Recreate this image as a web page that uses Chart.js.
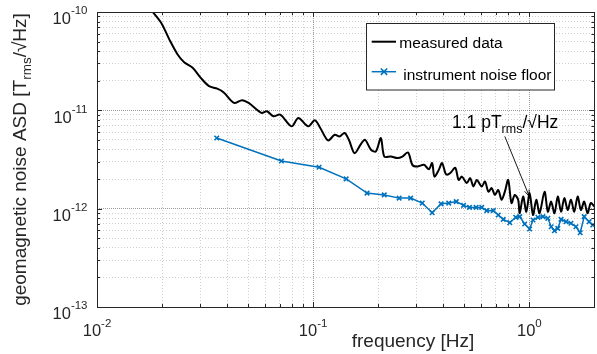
<!DOCTYPE html>
<html>
<head>
<meta charset="utf-8">
<script src="https://cdn.jsdelivr.net/npm/chart.js@4.4.1/dist/chart.umd.min.js"></script>
<style>
  body { margin: 0; overflow: hidden; background: #fff; }
  canvas { display: block; }
</style>
</head>
<body>
<canvas id="asdChart" width="600" height="354"></canvas>
<script>
// measured geomagnetic noise (black trace)
const measuredFreq = [0.0176, 0.0198, 0.0216, 0.0236, 0.0253, 0.0277, 0.0302, 0.033, 0.036, 0.0387,
  0.043, 0.0469, 0.0503, 0.0576, 0.0611, 0.0655, 0.0704, 0.0795, 0.0854, 0.0949,
  0.1018, 0.1077, 0.1172, 0.1258, 0.1326, 0.1398, 0.1463, 0.1554, 0.1666, 0.1738,
  0.1851, 0.1952, 0.2057, 0.2133, 0.2287, 0.2454, 0.2587, 0.2748, 0.2876, 0.3032,
  0.3254, 0.3431, 0.3552, 0.3639, 0.3812, 0.3948, 0.4088, 0.4162, 0.431, 0.4543,
  0.4709, 0.4876, 0.514, 0.5322, 0.5517, 0.5714, 0.6024, 0.6237, 0.6466, 0.6694,
  0.6931, 0.7185, 0.7441, 0.7705, 0.7986, 0.8268, 0.8563, 0.8876, 0.9027, 0.9357,
  0.9687, 1.003, 1.040, 1.077, 1.115, 1.176, 1.218, 1.262, 1.307, 1.354,
  1.402, 1.452, 1.505, 1.558, 1.614, 1.673, 1.732, 1.794, 1.859, 1.925, 2.0];
const measuredAsd = [1.08e-10, 7.79e-11, 5.27e-11, 3.70e-11, 3.09e-11, 2.71e-11, 2.14e-11, 1.76e-11, 1.66e-11, 1.51e-11,
  1.19e-11, 1.27e-11, 1.19e-11, 9.41e-12, 9.77e-12, 8.69e-12, 9.04e-12, 6.87e-12, 8.36e-12, 6.87e-12,
  7.91e-12, 6.66e-12, 4.94e-12, 5.65e-12, 5.43e-12, 5.88e-12, 5.02e-12, 3.67e-12, 4.57e-12, 5.02e-12,
  3.97e-12, 3.82e-12, 5.23e-12, 3.39e-12, 3.39e-12, 3.27e-12, 3.39e-12, 3.73e-12, 2.79e-12, 2.68e-12,
  2.79e-12, 2.52e-12, 2.91e-12, 2.12e-12, 2.48e-12, 2.91e-12, 2.30e-12, 2.21e-12, 2.30e-12, 2.60e-12,
  1.96e-12, 2.12e-12, 1.82e-12, 2.04e-12, 1.68e-12, 1.96e-12, 1.68e-12, 1.89e-12, 1.49e-12, 1.62e-12,
  1.38e-12, 1.55e-12, 1.23e-12, 1.49e-12, 1.96e-12, 1.14e-12, 1.38e-12, 1.23e-12, 8.98e-13, 1.33e-12,
  9.32e-13, 1.44e-12, 8.62e-13, 1.23e-12, 8.98e-13, 1.49e-12, 9.32e-13, 1.18e-12, 8.98e-13, 1.33e-12,
  9.32e-13, 1.28e-12, 9.70e-13, 1.23e-12, 9.32e-13, 1.33e-12, 9.70e-13, 1.18e-12, 8.98e-13, 1.14e-12, 1.05e-12];

// instrument noise floor (blue trace with x markers)
const noiseFreq = [0.0358, 0.0713, 0.1065, 0.1421, 0.1775, 0.2133, 0.2498, 0.2825, 0.3196, 0.3552,
  0.3906, 0.4238, 0.4592, 0.4964, 0.5289, 0.5672, 0.6024, 0.6351, 0.6815, 0.7185,
  0.7575, 0.8121, 0.8654, 0.9027, 0.9515, 1.003, 1.040, 1.096, 1.156, 1.218,
  1.262, 1.307, 1.354, 1.402, 1.478, 1.558, 1.643, 1.719, 1.794, 1.891, 1.966];
const noiseAsd = [5.23e-12, 3.05e-12, 2.64e-12, 2.01e-12, 1.44e-12, 1.38e-12, 1.28e-12, 1.28e-12, 1.14e-12, 9.10e-13,
  1.12e-12, 1.14e-12, 1.18e-12, 1.08e-12, 1.03e-12, 1.03e-12, 1.03e-12, 9.54e-13, 9.54e-13, 8.62e-13,
  7.79e-13, 7.20e-13, 8.17e-13, 8.29e-13, 6.98e-13, 6.21e-13, 7.67e-13, 8.17e-13, 8.29e-13, 7.98e-13,
  6.55e-13, 5.97e-13, 6.31e-13, 7.79e-13, 7.37e-13, 7.10e-13, 6.55e-13, 5.69e-13, 8.29e-13, 7.37e-13, 6.82e-13];

const seriesLabels = ['measured data', 'instrument noise floor'];

// axis decades (labels are 10^exp) and the minor steps inside each decade
const xTickExps = [-2, -1, 0];
const yTickExps = [-13, -12, -11, -10];
const minorSteps = [2, 3, 4, 5, 6, 7, 8, 9];

// annotation "1.1 pT_rms/sqrt(Hz)": text anchor, arrow tail and arrow tip (data coords)
const noteText = [0.4387, 6.61e-12];
const noteTail = [0.770, 5.43e-12];
const noteTip = [1.0, 1.33e-12];

const FONT = '"Liberation Sans", Arial, Helvetica, sans-serif';
const AXIS_COLOR = '#262626';
const BLUE = '#0072BD';

function decadeTicks(exps, min, max) {
    const out = [];
    exps.forEach(e => {
        const base = Math.pow(10, e);
        out.push({ value: base, major: true });
        minorSteps.forEach(m => {
            const v = m * base;
            if (v >= min * 0.999 && v <= max * 1.001) out.push({ value: v, major: false });
        });
    });
    return out.filter(t => t.value >= min * 0.999 && t.value <= max * 1.001);
}

// draw text made of pieces with own size and baseline shift (for sub/superscripts)
function drawRich(ctx, parts, x, y, align) {
    let total = 0;
    parts.forEach(p => { ctx.font = p.size + 'px ' + FONT; p.w = ctx.measureText(p.text).width; total += p.w; });
    let cx = align === 'right' ? x - total : align === 'center' ? x - total / 2 : x;
    ctx.textAlign = 'left';
    ctx.textBaseline = 'alphabetic';
    parts.forEach(p => {
        ctx.font = p.size + 'px ' + FONT;
        ctx.fillText(p.text, cx, y + (p.dy || 0));
        cx += p.w;
    });
}

function powParts(exp, baseSize, supSize, supDy) {
    return [{ text: '10', size: baseSize }, { text: String(exp), size: supSize, dy: supDy }];
}

const matlabAxes = {
    id: 'matlabAxes',
    afterDatasetsDraw(chart) {
        const { ctx, chartArea: a, scales: { x, y } } = chart;
        ctx.save();
        ctx.fillStyle = '#000';
        ctx.strokeStyle = AXIS_COLOR;
        ctx.lineWidth = 1;

        // inward tick marks on all four sides
        ctx.beginPath();
        x.ticks.forEach(t => {
            const px = Math.round(x.getPixelForValue(t.value)) + 0.5;
            const len = t.major ? 5 : 3;
            ctx.moveTo(px, a.bottom); ctx.lineTo(px, a.bottom - len);
            ctx.moveTo(px, a.top); ctx.lineTo(px, a.top + len);
        });
        y.ticks.forEach(t => {
            const py = Math.round(y.getPixelForValue(t.value)) + 0.5;
            const len = t.major ? 5 : 3;
            ctx.moveTo(a.left, py); ctx.lineTo(a.left + len, py);
            ctx.moveTo(a.right, py); ctx.lineTo(a.right - len, py);
        });
        ctx.stroke();

        // axes box
        ctx.strokeRect(Math.round(a.left) + 0.5, Math.round(a.top) + 0.5,
            Math.round(a.right - a.left), Math.round(a.bottom - a.top));

        // tick labels 10^n
        ctx.fillStyle = AXIS_COLOR;
        yTickExps.forEach(e => {
            const py = y.getPixelForValue(Math.pow(10, e));
            drawRich(ctx, powParts(e, 16.5, 11.5, -10), a.left - 9.5, py + 12.3, 'right');
        });
        xTickExps.forEach(e => {
            const px = x.getPixelForValue(Math.pow(10, e));
            drawRich(ctx, powParts(e, 16.5, 11.5, -9), px, a.bottom + 29.3, 'center');
        });

        // axis titles
        drawRich(ctx, [{ text: 'frequency [Hz]', size: 19 }], 413, 347, 'center');
        ctx.save();
        ctx.translate(26, (a.top + a.bottom) / 2);
        ctx.rotate(-Math.PI / 2);
        drawRich(ctx, [
            { text: 'geomagnetic noise ASD [T', size: 19 },
            { text: 'rms', size: 13.5, dy: 5 },
            { text: '/\u221AHz]', size: 19 }
        ], 0, 0, 'center');
        ctx.restore();

        // annotation with arrow
        ctx.fillStyle = '#000';
        drawRich(ctx, [
            { text: '1.1 pT', size: 17.5 },
            { text: 'rms', size: 12.5, dy: 5 },
            { text: '/\u221AHz', size: 17.5 }
        ], x.getPixelForValue(noteText[0]), y.getPixelForValue(noteText[1]), 'left');
        const tx = x.getPixelForValue(noteTail[0]), ty = y.getPixelForValue(noteTail[1]);
        const hx = x.getPixelForValue(noteTip[0]), hy = y.getPixelForValue(noteTip[1]);
        const ang = Math.atan2(hy - ty, hx - tx);
        ctx.strokeStyle = '#000';
        ctx.lineWidth = 0.9;
        ctx.beginPath();
        ctx.moveTo(tx, ty); ctx.lineTo(hx, hy);
        ctx.moveTo(hx - 7 * Math.cos(ang - 0.35), hy - 7 * Math.sin(ang - 0.35));
        ctx.lineTo(hx, hy);
        ctx.lineTo(hx - 7 * Math.cos(ang + 0.35), hy - 7 * Math.sin(ang + 0.35));
        ctx.stroke();

        // legend box
        const ds = chart.data.datasets;
        ctx.fillStyle = '#fff';
        ctx.fillRect(366, 23.5, 189, 66.5);
        ctx.strokeStyle = AXIS_COLOR;
        ctx.lineWidth = 1;
        ctx.strokeRect(366.5, 23.5, 188, 66.5);
        const rows = [{ y: 41.7, tx: 399.3, ty: 48.3 }, { y: 71.7, tx: 403.3, ty: 79.5 }];
        rows.forEach((r, i) => {
            ctx.strokeStyle = ds[i].borderColor;
            ctx.lineWidth = ds[i].borderWidth;
            ctx.beginPath();
            ctx.moveTo(371.7, r.y); ctx.lineTo(396, r.y);
            ctx.stroke();
            if (ds[i].pointRadius > 0) {
                ctx.lineWidth = ds[i].pointBorderWidth;
                const s = ds[i].pointRadius;
                ctx.beginPath();
                ctx.moveTo(384 - s, r.y - s); ctx.lineTo(384 + s, r.y + s);
                ctx.moveTo(384 - s, r.y + s); ctx.lineTo(384 + s, r.y - s);
                ctx.stroke();
            }
            ctx.fillStyle = '#000';
            drawRich(ctx, [{ text: ds[i].label, size: 15.5 }], r.tx, r.ty, 'left');
        });
        ctx.restore();
    }
};

function logAxis(min, max, exps) {
    return {
        type: 'logarithmic',
        min: min,
        max: max,
        afterBuildTicks: s => { s.ticks = decadeTicks(exps, min, max); },
        ticks: { display: false },
        grid: {
            drawTicks: false,
            lineWidth: 1,
            color: c => (c.tick && c.tick.major) ? 'rgba(38,38,38,0.45)' : 'rgba(38,38,38,0.22)'
        },
        border: {
            display: false,
            dash: c => (c.tick && c.tick.major) ? [1, 1] : [1, 2]
        }
    };
}

let asdChart;

function initChart() {
    const xScale = logAxis(0.01, 2, xTickExps);
    xScale.afterFit = s => { s.height = 0; };
    const yScale = logAxis(1e-13, 1e-10, yTickExps);
    yScale.afterFit = s => { s.width = 0; };

    asdChart = new Chart(document.getElementById('asdChart'), {
        type: 'line',
        data: {
            datasets: [{
                label: seriesLabels[0],
                data: measuredFreq.map((f, i) => ({ x: f, y: measuredAsd[i] })),
                borderColor: '#000',
                borderWidth: 2,
                pointRadius: 0,
                tension: 0.3,
                clip: 0
            }, {
                label: seriesLabels[1],
                data: noiseFreq.map((f, i) => ({ x: f, y: noiseAsd[i] })),
                borderColor: BLUE,
                borderWidth: 1.5,
                pointStyle: 'crossRot',
                pointRadius: 3.2,
                pointBorderWidth: 1.6,
                pointBorderColor: BLUE,
                pointBackgroundColor: BLUE,
                tension: 0,
                clip: 0
            }]
        },
        options: {
            responsive: false,
            animation: false,
            devicePixelRatio: 1,
            layout: { padding: { left: 97, top: 12, right: 1.4, bottom: 47 } },
            plugins: { legend: { display: false }, tooltip: { enabled: false } },
            scales: { x: xScale, y: yScale }
        },
        plugins: [matlabAxes]
    });
}

window.addEventListener('DOMContentLoaded', initChart);
</script>
</body>
</html>
